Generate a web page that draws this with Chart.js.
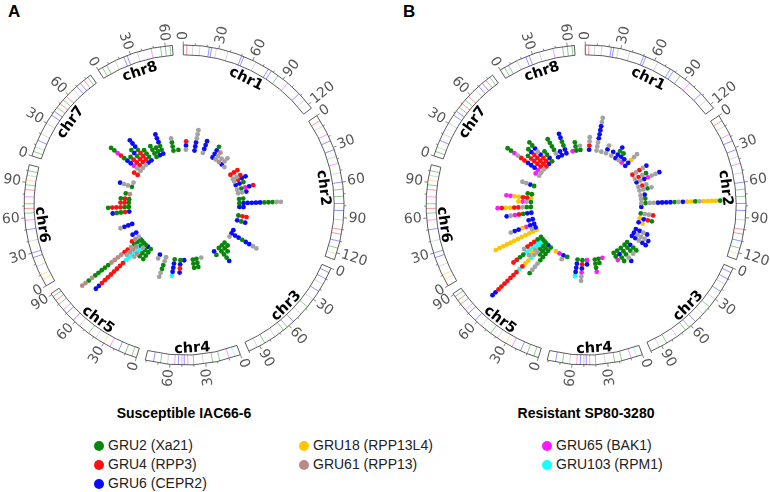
<!DOCTYPE html>
<html>
<head>
<meta charset="utf-8">
<script src="https://cdn.jsdelivr.net/npm/chart.js@4.4.1/dist/chart.umd.min.js"></script>
<style>
  body { margin: 0; background: #fff; width: 770px; height: 492px; position: relative; overflow: hidden;
         font-family: "Liberation Sans", Arial, sans-serif; color: #222; }
  canvas { position: absolute; top: 0; }
  #chartA { left: 0; }
  #chartB { left: 402px; }
  .letter { position: absolute; top: 2px; font-weight: bold; font-size: 17px; color: #000; }
  .title { position: absolute; top: 405px; width: 300px; text-align: center; font-weight: bold; font-size: 14px; color: #000; }
  .item { position: absolute; font-size: 14px; line-height: 16px; white-space: nowrap; }
  .item span { display: inline-block; width: 10px; height: 10px; border-radius: 50%; margin-right: 4px; vertical-align: -1px; }
</style>
</head>
<body>
<div class="letter" style="left:8px">A</div>
<div class="letter" style="left:403px">B</div>
<canvas id="chartA" width="385" height="400"></canvas>
<canvas id="chartB" width="385" height="400"></canvas>
<div id="titles"></div>
<div id="legend"></div>
<script>
// chromosomes (Mb) and tick step
const chrNames = ['chr1', 'chr2', 'chr3', 'chr4', 'chr5', 'chr6', 'chr7', 'chr8'];
const chrLengths = [124, 126, 100, 81, 91, 105, 85, 66];
const tickStep = 30;

// gene groups: code used in the stacks below, and legend text
const groupCodes = ['g', 'r', 'b', 'y', 'p', 'k', 'c'];
const groupLabels = ['GRU2 (Xa21)', 'GRU4 (RPP3)', 'GRU6 (CEPR2)', 'GRU18 (RPP13L4)', 'GRU61 (RPP13)', 'GRU65 (BAK1)', 'GRU103 (RPM1)'];
const panelTitles = ['Susceptible IAC66-6', 'Resistant SP80-3280'];

// stacks of genes: [chromosome, position (Mb), groups from the inside out], 'a' = other groups
const stacksA = [
  [1, 5, 'abr'], [1, 26, 'bbbaaa'], [1, 47, 'abbb'], [1, 73, 'bbbg'], [1, 82, 'aap'], [1, 92, 'pa'],
  [1, 101, 'baa'], [1, 110, 'a'],
  [2, 2, 'rrr'], [2, 14, 'aar'], [2, 21, 'arbb'], [2, 30, 'bbg'], [2, 42, 'agkbr'], [2, 51, 'aab'],
  [2, 65, 'gg'], [2, 75, 'gbbbbbgggaa'], [2, 84, 'bb'], [2, 105, 'grr'], [2, 117, 'bgb'],
  [3, 9, 'b'], [3, 18, 'bbbgbbaa'], [3, 27, 'a'], [3, 46, 'gg'], [3, 55, 'ggg'], [3, 65, 'ggggb'], [3, 79, 'bg'],
  [4, 6, 'a'], [4, 18, 'ggg'], [4, 27, 'ggg'], [4, 48, 'b'], [4, 57, 'gbrb'], [4, 71, 'gbbbc'],
  [5, 4, 'aaggaa'], [5, 20, 'ba'], [5, 46, 'gggg'], [5, 55, 'bggg'], [5, 62, 'gacpa'],
  [5, 68, 'ggcccccrrrrrrrrbb'], [5, 74, 'gcpppa'], [5, 80, 'gggarrppppgggggpgpp'], [5, 88, 'apr'],
  [6, 1, 'bb'], [6, 24, 'bbba'], [6, 55, 'brggb'], [6, 66, 'ggrrrg'], [6, 76, 'grr'], [6, 85, 'grg'], [6, 97, 'pg'],
  [7, 3, 'gaab'], [7, 14, 'a'], [7, 35, 'rr'], [7, 47, 'aakbbgrkgg'], [7, 56, 'arrrg'], [7, 66, 'arrgbg'],
  [7, 75, 'brrrgbbb'], [7, 84, 'bggg'],
  [8, 6, 'gggg'], [8, 15, 'bgg'], [8, 24, 'bggbbb'], [8, 50, 'ggga'], [8, 62, 'g']
];

const stacksB = [
  [1, 8, 'braa'], [1, 26, 'aaabbbbaa'], [1, 38, 'a'], [1, 50, 'aba'], [1, 64, 'ab'], [1, 76, 'bbgb'],
  [1, 85, 'abg'], [1, 94, 'kb'], [1, 106, 'bbyaa'],
  [2, 2, 'rarab'], [2, 14, 'arag'], [2, 23, 'babkaab'], [2, 35, 'ara'], [2, 44, 'aaga'], [2, 56, 'ab'],
  [2, 65, 'ag'], [2, 75, 'agaabbbbgabyygayyyyg'], [2, 84, 'b'], [2, 100, 'gaar'], [2, 112, 'ybrg'], [2, 122, 'by'],
  [3, 6, 'bbab'], [3, 16, 'baaab'], [3, 25, 'bbabb'], [3, 44, 'gbgg'], [3, 53, 'ggga'], [3, 65, 'gggab'],
  [3, 76, 'gbgg'], [3, 86, 'ggk'],
  [4, 8, 'k'], [4, 18, 'gg'], [4, 27, 'gggk'], [4, 46, 'kb'], [4, 57, 'grbkaa'], [4, 69, 'gbbbc'],
  [5, 6, 'g'], [5, 16, 'ba'], [5, 27, 'k'], [5, 37, 'y'], [5, 52, 'gggggaaag'], [5, 60, 'bggg'],
  [5, 67, 'gggaacyyrcrrrrrrrbb'], [5, 73, 'gccaya'], [5, 80, 'gcccccggrr'], [5, 87, 'ggrrra'],
  [6, 9, 'yyyyyyyyyyyy'], [6, 15, 'ba'], [6, 24, 'bbkybba'], [6, 36, 'bb'], [6, 52, 'bbgrkab'],
  [6, 66, 'ggarryyrk'], [6, 78, 'gaky'], [6, 87, 'yrryykk'], [6, 97, 'gg'],
  [7, 5, 'gbaa'], [7, 33, 'ak'], [7, 42, 'akbbbrrakgg'], [7, 52, 'arrrrg'], [7, 61, 'rrrrrbg'],
  [7, 70, 'brrbabgg'], [7, 80, 'gbgg'],
  [8, 5, 'bagggg'], [8, 15, 'bb'], [8, 27, 'bbggbb'], [8, 43, 'k'], [8, 52, 'ggg'], [8, 62, 'ga']
];

// gene marks drawn inside the chromosome ring: [chromosome, position, group]
const ringMarks = [
  [1, 3, 'r'], [1, 8, 'a'], [1, 14, 'a'], [1, 22, 'b'], [1, 24, 'b'], [1, 28, 'a'], [1, 38, 'a'], [1, 50, 'b'],
  [1, 52, 'b'], [1, 63, 'a'], [1, 75, 'b'], [1, 78, 'b'], [1, 85, 'g'], [1, 95, 'k'], [1, 108, 'b'], [1, 115, 'a'],
  [2, 5, 'r'], [2, 10, 'a'], [2, 18, 'k'], [2, 24, 'b'], [2, 32, 'b'], [2, 38, 'a'], [2, 44, 'k'], [2, 52, 'a'],
  [2, 60, 'b'], [2, 66, 'g'], [2, 72, 'g'], [2, 78, 'b'], [2, 84, 'b'], [2, 92, 'a'], [2, 100, 'r'], [2, 104, 'r'],
  [2, 110, 'b'], [2, 116, 'g'], [2, 121, 'y'],
  [3, 4, 'b'], [3, 10, 'b'], [3, 15, 'a'], [3, 22, 'b'], [3, 30, 'a'], [3, 38, 'g'], [3, 46, 'a'], [3, 55, 'b'],
  [3, 62, 'g'], [3, 66, 'g'], [3, 75, 'a'], [3, 85, 'g'], [3, 92, 'a'],
  [4, 5, 'c'], [4, 10, 'k'], [4, 18, 'g'], [4, 24, 'g'], [4, 32, 'a'], [4, 40, 'g'], [4, 45, 'k'], [4, 48, 'b'],
  [4, 50, 'k'], [4, 53, 'b'], [4, 56, 'k'], [4, 62, 'a'], [4, 68, 'g'], [4, 74, 'b'],
  [5, 4, 'g'], [5, 10, 'g'], [5, 16, 'b'], [5, 24, 'k'], [5, 30, 'y'], [5, 38, 'a'], [5, 45, 'g'], [5, 55, 'a'],
  [5, 62, 'b'], [5, 70, 'b'], [5, 74, 'k'], [5, 80, 'g'], [5, 84, 'r'], [5, 88, 'g'],
  [6, 6, 'y'], [6, 10, 'y'], [6, 18, 'a'], [6, 26, 'b'], [6, 30, 'b'], [6, 40, 'a'], [6, 50, 'b'], [6, 58, 'k'],
  [6, 64, 'g'], [6, 68, 'r'], [6, 72, 'g'], [6, 78, 'k'], [6, 84, 'r'], [6, 88, 'g'], [6, 92, 'y'], [6, 96, 'a'], [6, 100, 'g'],
  [7, 4, 'g'], [7, 8, 'a'], [7, 14, 'b'], [7, 20, 'a'], [7, 30, 'a'], [7, 38, 'b'], [7, 42, 'b'], [7, 46, 'g'],
  [7, 50, 'r'], [7, 54, 'g'], [7, 58, 'r'], [7, 66, 'a'], [7, 70, 'b'], [7, 74, 'b'], [7, 78, 'r'], [7, 82, 'g'],
  [8, 4, 'g'], [8, 8, 'g'], [8, 16, 'a'], [8, 24, 'b'], [8, 27, 'b'], [8, 36, 'a'], [8, 48, 'k'], [8, 56, 'g'],
  [8, 60, 'g'], [8, 64, 'g']
];

// style
const palette = { g: '#0a870a', r: '#ff1010', b: '#0a0aff', y: '#ffc400', p: '#bc8a86', k: '#ff19ff', c: '#19ffff', a: '#a3a3a3' };
const drawOrder = ['a', 'p', 'g', 'r', 'b', 'y', 'k', 'c'];
const DEG_PER_MB = 0.428, GAP_DEG = 3.3, START_DEG = -0.3;
const R_OUT = 162, R_IN = 152, R_DOT0 = 56, DOT_STEP = 4.2;

function chrStartDeg(i) {
  let a = START_DEG;
  for (let j = 0; j < i; j++) a += chrLengths[j] * DEG_PER_MB + GAP_DEG;
  return a;
}
function toDeg(chr, pos) {
  return chrStartDeg(chr - 1) + pos * DEG_PER_MB;
}
function rad(d) { return d * Math.PI / 180; }

// turn stacks into one scatter dataset per group
function buildDatasets(stacks) {
  return drawOrder.map(code => {
    const pts = [];
    stacks.forEach(([chr, pos, s]) => {
      const t = rad(toDeg(chr, pos));
      for (let k = 0; k < s.length; k++) {
        if (s[k] !== code) continue;
        const r = R_DOT0 + k * DOT_STEP;
        pts.push({ x: r * Math.sin(t), y: r * Math.cos(t) });
      }
    });
    return { data: pts, backgroundColor: palette[code], pointRadius: 2.4, borderWidth: 0, pointHoverRadius: 0 };
  });
}

// chromosome ring, ticks and labels
const circosPlugin = {
  id: 'circos',
  beforeDatasetsDraw(chart) {
    const { ctx, scales: { x, y } } = chart;
    const cx = x.getPixelForValue(0), cy = y.getPixelForValue(0);
    const u = x.getPixelForValue(1) - cx;
    const at = (r, d) => [cx + r * u * Math.sin(rad(d)), cy - r * u * Math.cos(rad(d))];
    ctx.save();
    chrLengths.forEach((len, i) => {
      const a0 = chrStartDeg(i), a1 = a0 + len * DEG_PER_MB;

      ctx.beginPath();
      ctx.arc(cx, cy, R_OUT * u, rad(a0 - 90), rad(a1 - 90));
      ctx.arc(cx, cy, R_IN * u, rad(a1 - 90), rad(a0 - 90), true);
      ctx.closePath();
      ctx.fillStyle = '#fff';
      ctx.fill();

      ctx.globalAlpha = 0.55;
      ctx.lineWidth = 0.8;
      ringMarks.filter(m => m[0] === i + 1).forEach(([, pos, code]) => {
        const d = a0 + pos * DEG_PER_MB;
        const p0 = at(R_IN, d), p1 = at(R_OUT, d);
        ctx.strokeStyle = palette[code];
        ctx.beginPath(); ctx.moveTo(p0[0], p0[1]); ctx.lineTo(p1[0], p1[1]); ctx.stroke();
      });
      ctx.globalAlpha = 1;

      ctx.beginPath();
      ctx.arc(cx, cy, R_OUT * u, rad(a0 - 90), rad(a1 - 90));
      ctx.arc(cx, cy, R_IN * u, rad(a1 - 90), rad(a0 - 90), true);
      ctx.closePath();
      ctx.strokeStyle = '#333';
      ctx.lineWidth = 0.8;
      ctx.stroke();

      // ticks and tick labels
      ctx.strokeStyle = '#666';
      ctx.fillStyle = '#555';
      ctx.font = '14px "DejaVu Sans"';
      for (let p = 0; p <= len; p += 10) {
        const d = a0 + p * DEG_PER_MB;
        const major = p % tickStep === 0;
        const p0 = at(R_OUT, d), p1 = at(R_OUT + (major ? 3.5 : 2), d);
        ctx.beginPath(); ctx.moveTo(p0[0], p0[1]); ctx.lineTo(p1[0], p1[1]); ctx.stroke();
        if (!major) continue;
        const [tx, ty] = at(R_OUT + 5, d);
        let rot = rad(d - 90), align = 'left';
        if (d > 165 && d < 360) { rot += Math.PI; align = 'right'; }
        ctx.save();
        ctx.translate(tx, ty);
        ctx.rotate(rot);
        ctx.textAlign = align;
        ctx.textBaseline = 'middle';
        ctx.fillText(String(p), 0, 0);
        ctx.restore();
      }

      // chromosome name
      const mid = (a0 + a1) / 2;
      const flip = mid > 90 && mid < 270;
      const [lx, ly] = at(flip ? 145.5 : 142, mid);
      ctx.save();
      ctx.translate(lx, ly);
      ctx.rotate(flip ? rad(mid - 180) : rad(mid));
      ctx.textAlign = 'center';
      ctx.textBaseline = 'middle';
      ctx.fillStyle = '#000';
      ctx.font = 'bold 14.5px "DejaVu Sans"';
      ctx.fillText(chrNames[i], 0, 0);
      ctx.restore();
    });
    ctx.restore();
  }
};

function makeChart(id, stacks) {
  new Chart(document.getElementById(id), {
    type: 'scatter',
    data: { datasets: buildDatasets(stacks) },
    options: {
      responsive: false,
      animation: false,
      events: [],
      layout: { padding: 0 },
      plugins: { legend: { display: false }, tooltip: { enabled: false } },
      scales: {
        x: { type: 'linear', min: -184, max: 201, display: false },
        y: { type: 'linear', min: -195, max: 205, display: false }
      }
    },
    plugins: [circosPlugin]
  });
}

makeChart('chartA', stacksA);
makeChart('chartB', stacksB);

// titles under each panel
const titles = document.getElementById('titles');
[184, 586].forEach((cx, i) => {
  const d = document.createElement('div');
  d.className = 'title';
  d.style.left = (cx - 150) + 'px';
  d.textContent = panelTitles[i];
  titles.appendChild(d);
});

// legend in three columns
const legendCols = [[0, 1, 2], [3, 4], [5, 6]];
const colX = [94, 299, 542];
const legend = document.getElementById('legend');
legendCols.forEach((col, ci) => {
  col.forEach((gi, ri) => {
    const d = document.createElement('div');
    d.className = 'item';
    d.style.left = colX[ci] + 'px';
    d.style.top = (437 + ri * 19) + 'px';
    const dot = document.createElement('span');
    dot.style.background = palette[groupCodes[gi]];
    d.appendChild(dot);
    d.appendChild(document.createTextNode(groupLabels[gi]));
    legend.appendChild(d);
  });
});
</script>
</body>
</html>
